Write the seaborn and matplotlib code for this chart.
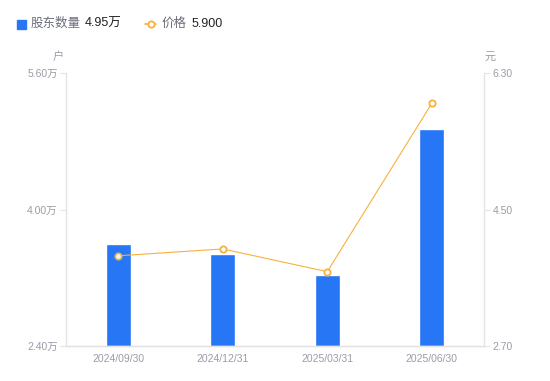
import matplotlib
matplotlib.use("Agg")
import matplotlib.pyplot as plt
from matplotlib.lines import Line2D
from matplotlib.patches import Rectangle
import seaborn as sns

# data
dates = ["2024/09/30", "2024/12/31", "2025/03/31", "2025/06/30"]
holders = [3.60, 3.48, 3.23, 4.95]   # 万户
prices = [3.89, 3.98, 3.68, 5.90]    # 元
left_ticks = [2.40, 4.00, 5.60]
right_ticks = [2.70, 4.50, 6.30]

BLUE = "#2676F5"
ORANGE = "#F7B13E"
GREY = "#9A9BA8"
AXIS = "#E3E4E8"


def main():
    sns.set_style("white")
    plt.rcParams["font.family"] = ["Liberation Sans", "Noto Sans CJK SC", "DejaVu Sans"]

    fig = plt.figure(figsize=(5.5, 3.81), dpi=100)
    ax = fig.add_axes([0.12, 0.092, 0.76, 0.716])

    sns.barplot(x=dates, y=holders, color=BLUE, width=0.24,
                saturation=1, ax=ax)
    ax.set_xlim(-0.5, 3.5)
    ax.set_ylim(left_ticks[0], left_ticks[-1])
    ax.set_yticks(left_ticks)
    ax.set_yticklabels([f"{v:.2f}万" for v in left_ticks])

    ax2 = ax.twinx()
    sns.lineplot(x=list(range(len(dates))), y=prices, ax=ax2, color=ORANGE,
                 linewidth=0.8, marker="o", markersize=4.5,
                 markerfacecolor="white", markeredgecolor=ORANGE,
                 markeredgewidth=1.3)
    ax2.set_ylim(right_ticks[0], right_ticks[-1])
    ax2.set_yticks(right_ticks)
    ax2.set_yticklabels([f"{v:.2f}" for v in right_ticks])

    for a in (ax, ax2):
        a.grid(False)
        a.set_xlabel("")
        a.set_ylabel("")
        a.spines["top"].set_visible(False)
        for s in ("left", "right", "bottom"):
            a.spines[s].set_color(AXIS)
            a.spines[s].set_linewidth(1.0)
        a.tick_params(colors=GREY, labelsize=7.5, length=4, width=0.8)
        a.tick_params(axis="y", color=AXIS, labelcolor=GREY)
    ax.spines["right"].set_visible(False)
    ax2.spines["left"].set_visible(False)
    ax.tick_params(axis="x", length=0, pad=6, labelcolor=GREY)
    ax.tick_params(axis="y", pad=2)
    ax2.tick_params(axis="y", pad=2)

    # unit labels
    fig.text(58 / 550, 1 - 57 / 381, "户", fontsize=8, color=GREY,
             ha="center", va="center")
    fig.text(490 / 550, 1 - 57 / 381, "元", fontsize=8, color=GREY,
             ha="center", va="center")

    # legend at the top
    ly = 1 - 24 / 381
    fig.patches.append(Rectangle((17 / 550, ly - 4.5 / 381), 9 / 550, 9 / 381,
                                 transform=fig.transFigure, color=BLUE))
    fig.text(31 / 550, ly, "股东数量", fontsize=9, color="#6B6D7A", va="center")
    fig.text(85 / 550, ly, f"{holders[-1]:.2f}万", fontsize=9, color="#222222",
             va="center")
    fig.lines.append(Line2D([145 / 550, 156 / 550], [ly, ly],
                            transform=fig.transFigure, color=ORANGE, lw=1.2))
    fig.lines.append(Line2D([150.5 / 550], [ly], transform=fig.transFigure,
                            marker="o", markersize=4.5, markerfacecolor="white",
                            markeredgecolor=ORANGE, markeredgewidth=1.3))
    fig.text(162 / 550, ly, "价格", fontsize=9, color="#6B6D7A", va="center")
    fig.text(192 / 550, ly, f"{prices[-1]:.3f}", fontsize=9, color="#222222",
             va="center")

    fig.savefig("out.png", dpi=100)
    plt.close(fig)


if __name__ == "__main__":
    main()
